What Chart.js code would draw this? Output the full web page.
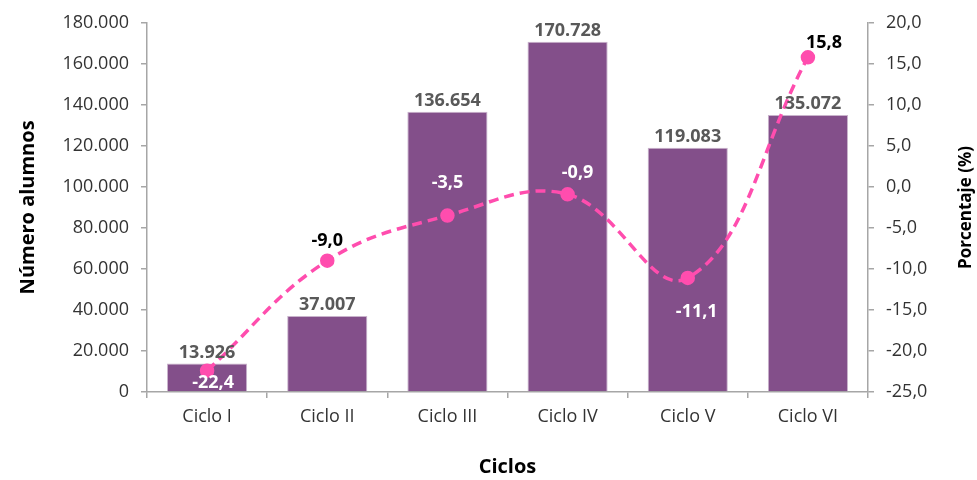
<!DOCTYPE html>
<html>
<head>
<meta charset="utf-8">
<script src="https://cdn.jsdelivr.net/npm/chart.js@4/dist/chart.umd.min.js"></script>
<style>
  body { margin: 0; background: #fff; }
  #wrap { width: 977px; height: 480px; }
</style>
</head>
<body>
<div id="wrap"><canvas id="ciclos"></canvas></div>
<script>
// datos
let ciclos = ['Ciclo I', 'Ciclo II', 'Ciclo III', 'Ciclo IV', 'Ciclo V', 'Ciclo VI'];
let alumnos = [13926, 37007, 136654, 170728, 119083, 135072];
let porcentaje = [-22.4, -9.0, -3.5, -0.9, -11.1, 15.8];

// donde va cada etiqueta del porcentaje (dx, dy desde el punto) y su color
let pctLabelPos = [[6, 12], [0, -20], [0, -33], [10, -21], [9, 34], [16, -14]];
let pctLabelColor = ['#ffffff', '#000000', '#ffffff', '#ffffff', '#ffffff', '#000000'];

const fontFam = "'Open Sans', 'DejaVu Sans', sans-serif";
Chart.defaults.font.family = fontFam;

function fmtMiles(v) {
    return Math.round(v).toString().replace(/\B(?=(\d{3})+(?!\d))/g, '.');
}
function fmtPct(v) {
    return v.toFixed(1).replace('.', ',');
}

let canvas = document.getElementById('ciclos');
let ctx = canvas.getContext('2d');

new Chart(ctx, {
    data: {
        labels: ciclos,
        datasets: [{
            type: 'line',
            label: 'Porcentaje',
            data: porcentaje,
            yAxisID: 'y1',
            borderColor: '#ff4dae',
            backgroundColor: '#ff4dae',
            borderWidth: 3.5,
            borderDash: [10, 6],
            pointRadius: 5.5,
            pointHoverRadius: 5.5,
            tension: 0.4,
            order: 0
        }, {
            type: 'bar',
            label: 'Número alumnos',
            data: alumnos,
            yAxisID: 'y',
            backgroundColor: '#834f8a',
            borderColor: '#c9b3cc',
            borderWidth: 1,
            barPercentage: 0.667,
            categoryPercentage: 1.0,
            order: 1
        }]
    },
    options: {
        responsive: true,
        maintainAspectRatio: false,
        animation: false,
        layout: { padding: { top: 21, right: 0, left: 0, bottom: 0 } },
        plugins: {
            legend: { display: false },
            tooltip: { enabled: false }
        },
        scales: {
            x: {
                grid: { drawOnChartArea: false, color: '#a6a6a6', tickLength: 6, lineWidth: 1.5 },
                border: { color: '#a6a6a6', width: 1.5 },
                ticks: { color: '#333333', font: { size: 18 }, padding: 8, maxRotation: 0 },
                afterFit: function (scale) { scale.height = 88; }
            },
            y: {
                position: 'left',
                min: 0,
                max: 180000,
                grid: { drawOnChartArea: false, color: '#a6a6a6', tickLength: 6, lineWidth: 1.5 },
                border: { color: '#a6a6a6', width: 1.5 },
                ticks: {
                    stepSize: 20000,
                    color: '#333333',
                    font: { size: 18 },
                    padding: 12,
                    callback: function (v) { return fmtMiles(v); }
                },
                afterFit: function (scale) { scale.width = 147; }
            },
            y1: {
                position: 'right',
                min: -25,
                max: 20,
                grid: { drawOnChartArea: false, color: '#a6a6a6', tickLength: 6, lineWidth: 1.5 },
                border: { color: '#a6a6a6', width: 1.5 },
                ticks: {
                    stepSize: 5,
                    color: '#333333',
                    font: { size: 18 },
                    padding: 12,
                    callback: function (v) { return fmtPct(v); }
                },
                afterFit: function (scale) { scale.width = 109; }
            }
        }
    },
    plugins: [
        {
            afterDraw: function (chart) {
                const c = chart.ctx;
                const area = chart.chartArea;
                c.save();

                // valores de las barras
                const bars = chart.getDatasetMeta(1).data;
                c.font = 'bold 18px ' + fontFam;
                c.textAlign = 'center';
                c.textBaseline = 'bottom';
                c.fillStyle = '#595959';
                bars.forEach(function (b, i) {
                    c.fillText(fmtMiles(alumnos[i]), b.x, b.y - 2);
                });

                // valores del porcentaje
                const pts = chart.getDatasetMeta(0).data;
                c.textBaseline = 'middle';
                pts.forEach(function (p, i) {
                    c.fillStyle = pctLabelColor[i];
                    c.fillText(fmtPct(porcentaje[i]), p.x + pctLabelPos[i][0], p.y + pctLabelPos[i][1]);
                });

                // titulos de los ejes
                c.fillStyle = '#000000';
                c.font = 'bold 20px ' + fontFam;
                c.fillText('Ciclos', (area.left + area.right) / 2, 467);

                const midY = (area.top + area.bottom) / 2;
                c.translate(28, midY);
                c.rotate(-Math.PI / 2);
                c.fillText('Número alumnos', 0, 0);
                c.rotate(Math.PI / 2);
                c.translate(-28, -midY);

                c.translate(966, midY);
                c.rotate(-Math.PI / 2);
                c.font = 'bold 17px ' + fontFam;
                c.fillText('Porcentaje (%)', 0, 0);
                c.restore();
            }
        }
    ]
});
</script>
</body>
</html>
